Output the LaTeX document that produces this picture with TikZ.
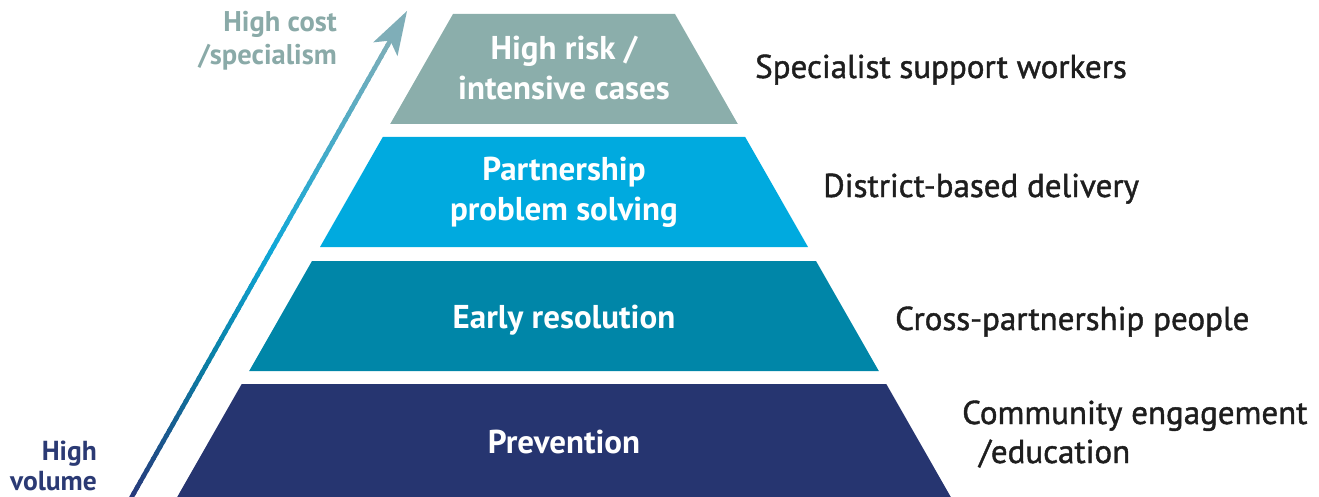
\documentclass[tikz,border=0pt]{standalone}
\usepackage{fontspec}
\setmainfont{PT Sans}
\newfontfamily\medfont[FakeBold=1.3]{PT Sans}
\usetikzlibrary{calc}
\definecolor{bandA}{HTML}{8BAEAB}
\definecolor{bandB}{HTML}{00AADF}
\definecolor{bandC}{HTML}{0086A8}
\definecolor{bandD}{HTML}{263570}
\definecolor{sidetext}{HTML}{1E1E1E}
\definecolor{costtext}{HTML}{8AAAA8}
\definecolor{voltext}{HTML}{2B3A74}
\definecolor{arrA}{HTML}{28387A}
\definecolor{arrB}{HTML}{0A7FA5}
\definecolor{arrC}{HTML}{10A8D8}
\definecolor{arrD}{HTML}{7FAEB8}
\tikzset{
  bandtext/.style={text=white, font=\bfseries\fontsize{33}{40}\selectfont, align=center, inner sep=0pt},
  sidelabel/.style={text=sidetext, font=\medfont\fontsize{33}{39}\selectfont, align=left, inner sep=0pt, anchor=base west},
  axislabel/.style={align=right, inner sep=0pt, anchor=north east},
}
\begin{document}
\begin{tikzpicture}[x=1pt, y=-1pt]
\useasboundingbox (0,0) rectangle (1319,497);
% pyramid bands
\fill[bandA] (453,14) -- (675,14) -- (737.8,124) -- (390.2,124) -- cycle;
\fill[bandB] (382.8,137) -- (745.2,137) -- (808,247) -- (320,247) -- cycle;
\fill[bandC] (312,261) -- (816,261) -- (878.8,371) -- (249.2,371) -- cycle;
\fill[bandD] (241.7,384) -- (886.3,384) -- (952.5,500) -- (175.5,500) -- cycle;
% band texts
\node[bandtext] (b1) at (564,68) {High risk /\\intensive cases};
\node[bandtext] (b2) at (564,192) {Partnership\\problem solving};
\node[bandtext, anchor=base] (b3) at (564,328) {Early resolution};
\node[bandtext, anchor=base] (b4) at (564,453) {Prevention};
% side labels
\node[sidelabel] (s1) at (755,78) {Specialist support workers};
\node[sidelabel] (s2) at (823,197) {District-based delivery};
\node[sidelabel] (s3) at (895,330) {Cross-partnership people};
\node[sidelabel] (s4) at (962,463) {Community engagement\\\hspace*{17pt}/education};
% axis labels
\node[axislabel, text=costtext, font=\bfseries\fontsize{28.5}{33}\selectfont] (hc) at (337,11) {High cost\\/specialism};
\node[axislabel, text=voltext, font=\bfseries\fontsize{27.5}{30}\selectfont] (hv) at (97,441) {High\\volume};
% arrow
\coordinate (abot) at (130,500);
\coordinate (atop) at (407,11);
\coordinate (anotch) at ($(atop)!34pt!(abot)$);
\coordinate (hbase) at ($(atop)!44pt!(abot)$);
\coordinate (hl) at ($(hbase)!14pt!90:(atop)$);
\coordinate (hr) at ($(hbase)!14pt!-90:(atop)$);
\foreach \i in {0,...,79}{
  \pgfmathsetmacro\t{(\i+0.5)/80}
  \ifdim\t pt<0.3pt
    \pgfmathsetmacro\p{100*\t/0.3}\colorlet{segc}{arrB!\p!arrA}
  \else\ifdim\t pt<0.55pt
    \pgfmathsetmacro\p{100*(\t-0.3)/0.25}\colorlet{segc}{arrC!\p!arrB}
  \else
    \pgfmathsetmacro\p{100*(\t-0.55)/0.45}\colorlet{segc}{arrD!\p!arrC}
  \fi\fi
  \draw[segc, line width=4.5pt] ($(abot)!{\i/80}!(anotch)$) -- ($(abot)!{(\i+1.4)/80}!(anotch)$);
}
\fill[arrD] (atop) -- (hl) -- (anotch) -- (hr) -- cycle;
\end{tikzpicture}
\end{document}
